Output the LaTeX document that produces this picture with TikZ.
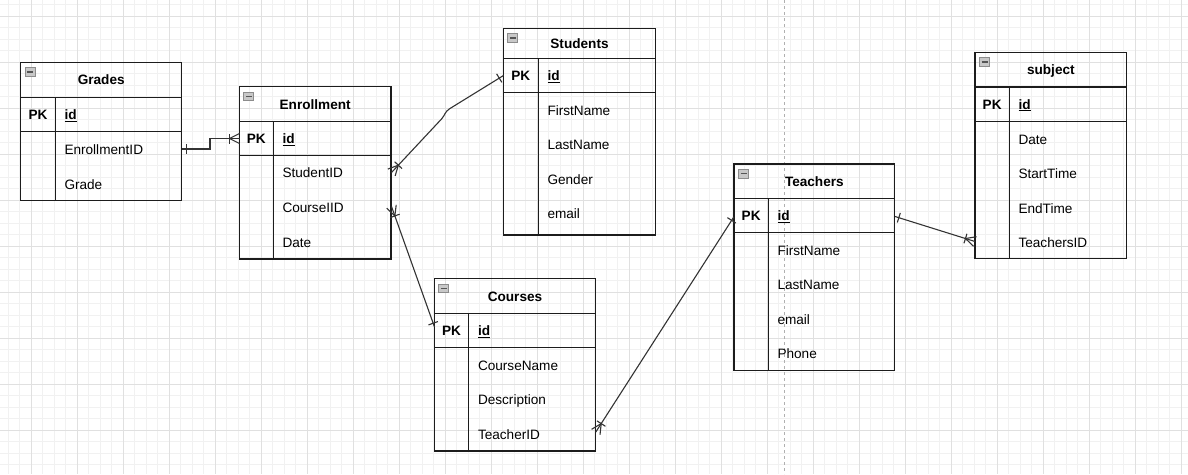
\documentclass[tikz,border=0pt]{standalone}
\usepackage{fontspec}
\setmainfont{Liberation Sans}
\usetikzlibrary{calc}
\definecolor{gridmin}{HTML}{F1F1F1}
\definecolor{gridmaj}{HTML}{E0E0E0}
\definecolor{ink}{HTML}{1C1C1C}
\definecolor{iconfill}{HTML}{C8C8C8}
\definecolor{icondraw}{HTML}{8C8C8C}
\definecolor{icondark}{HTML}{555555}
\definecolor{pagebreak}{HTML}{B0B0B0}
\tikzset{
  boxline/.style={draw=ink, line width=1.2pt},
  conn/.style={draw=ink!90, line width=1.1pt},
  gridminor/.style={draw=gridmin, line width=0.8pt},
  gridmajor/.style={draw=gridmaj, line width=1pt},
  tabletitle/.style={font=\fontsize{13.6}{16}\selectfont\bfseries, inner sep=0pt, anchor=base},
  fieldtext/.style={font=\fontsize{13.6}{16}\selectfont, inner sep=0pt, anchor=base west},
  pktext/.style={font=\fontsize{13.6}{16}\selectfont\bfseries, inner sep=0pt, anchor=base},
  idtext/.style={font=\fontsize{13.6}{16}\selectfont\bfseries, inner sep=0pt, anchor=base west},
}
% #1 id, #2 left, #3 top, #4 right, #5 bottom, #6 header bottom, #7 pk bottom, #8 divider, #9 title
\newcommand{\ertable}[9]{%
  \draw[boxline] (#2,#3) rectangle (#4,#5);
  \draw[boxline] (#2,#6) -- (#4,#6);
  \draw[boxline] (#2,#7) -- (#4,#7);
  \draw[boxline] (#8,#6) -- (#8,#5);
  \draw[fill=iconfill, draw=icondraw, line width=0.8pt] ({#2+4.5},{#3+5.5}) rectangle ({#2+14.5},{#3+14});
  \draw[draw=icondark, line width=1.3pt] ({#2+6.5},{#3+9.8}) -- ({#2+12.5},{#3+9.8});
  \node[tabletitle] (#1-title) at ({(#2+#4)/2},{(#3+#6)/2+5}) {#9};
  \node[pktext] (#1-pk) at ({(#2+#8)/2},{(#6+#7)/2+5}) {PK};
  \node[idtext] (#1-id) at ({#8+9},{(#6+#7)/2+5}) {\underline{id}};
}
% #1 name, #2 x, #3 row centre y, #4 text
\newcommand{\erfield}[4]{\node[fieldtext] (#1) at (#2,{#3+5}) {#4};}
% bar across the line at #1, toward #2, at distance #3
\newcommand{\erbar}[3]{%
  \coordinate (mka) at ($(#1)!#3!(#2)$);
  \draw[conn] ($(mka)!5pt!90:(#2)$) -- ($(mka)!5pt!-90:(#2)$);}
% crow's foot with bar at #1, toward #2
\newcommand{\ermany}[2]{%
  \coordinate (mkc) at ($(#1)!10pt!(#2)$);
  \draw[conn] ($(#1)!5pt!90:(#2)$) -- (mkc) -- ($(#1)!5pt!-90:(#2)$);
  \erbar{#1}{#2}{10pt}}
\begin{document}
\begin{tikzpicture}[x=1pt,y=-1pt]
\useasboundingbox (0,0) rectangle (1188,474);
\fill[white] (0,0) rectangle (1188,474);
% grid
\foreach \k in {-2,...,100} {\draw[gridminor] ({31.3+11.5*\k},0) -- ({31.3+11.5*\k},474);}
\foreach \k in {-1,...,39} {\draw[gridminor] (0,{16+11.5*\k}) -- (1188,{16+11.5*\k});}
\foreach \k in {0,...,25} {\draw[gridmajor] ({31.3+46*\k},0) -- ({31.3+46*\k},474);}
\foreach \k in {0,...,9} {\draw[gridmajor] (0,{16+46*\k}) -- (1188,{16+46*\k});}
\draw[draw=pagebreak, line width=0.9pt, dash pattern=on 3pt off 3pt] (784.3,0) -- (784.3,474);

% tables
\ertable{gr}{20.7}{62.3}{181.7}{200.7}{97.3}{131.7}{55.3}{Grades}
\erfield{gr-f1}{64.3}{149}{EnrollmentID}
\erfield{gr-f2}{64.3}{184}{Grade}

\ertable{en}{239.3}{86.7}{391}{259}{121.7}{155.7}{273.3}{Enrollment}
\erfield{en-f1}{282.3}{172.7}{StudentID}
\erfield{en-f2}{282.3}{207.5}{CourseIID}
\erfield{en-f3}{282.3}{242}{Date}

\ertable{st}{503.3}{28.3}{655.7}{235}{58.3}{92.7}{538.3}{Students}
\erfield{st-f1}{547.3}{110}{FirstName}
\erfield{st-f2}{547.3}{144.5}{LastName}
\erfield{st-f3}{547.3}{179}{Gender}
\erfield{st-f4}{547.3}{213.8}{email}

\ertable{co}{434.3}{278.7}{595.7}{451}{313.3}{347.3}{468.8}{Courses}
\erfield{co-f1}{477.8}{365}{CourseName}
\erfield{co-f2}{477.8}{399.5}{Description}
\erfield{co-f3}{477.8}{434}{TeacherID}

\ertable{te}{734}{164}{894.7}{370.7}{198.3}{232.3}{768.3}{Teachers}
\erfield{te-f1}{777.3}{250}{FirstName}
\erfield{te-f2}{777.3}{284.5}{LastName}
\erfield{te-f3}{777.3}{319}{email}
\erfield{te-f4}{777.3}{353.5}{Phone}

\ertable{su}{975}{52.3}{1126.7}{258.3}{87}{121.3}{1009.3}{subject}
\erfield{su-f1}{1018.3}{139.3}{Date}
\erfield{su-f2}{1018.3}{173.8}{StartTime}
\erfield{su-f3}{1018.3}{208.3}{EndTime}
\erfield{su-f4}{1018.3}{242.8}{TeachersID}

% connectors
\coordinate (g-out) at (182.2,149);
\coordinate (g-k1) at (210,149);
\coordinate (g-k2) at (210,138.5);
\coordinate (en-in) at (239.5,138.5);
\draw[conn] (g-out) -- (g-k1) -- (g-k2) -- (en-in);
\erbar{g-out}{g-k1}{4pt}
\ermany{en-in}{g-k2}

\coordinate (en-s) at (391.5,172.5);
\coordinate (es-k1) at (441.7,118.8);
\coordinate (es-k2) at (449.5,108.8);
\coordinate (st-in) at (503.5,75.5);
\draw[conn] (en-s) -- (es-k1) .. controls (445.3,114.5) and (444.8,112) .. (es-k2) -- (st-in);
\ermany{en-s}{es-k1}
\erbar{st-in}{es-k2}{5pt}

\coordinate (en-c) at (391.5,206.5);
\coordinate (co-in) at (434.5,327);
\draw[conn] (en-c) -- (co-in);
\ermany{en-c}{co-in}
\erbar{co-in}{en-c}{4pt}

\coordinate (co-out) at (595.8,432);
\coordinate (te-in) at (733.8,217);
\draw[conn] (co-out) -- (te-in);
\ermany{co-out}{te-in}
\erbar{te-in}{co-out}{4pt}

\coordinate (te-out) at (895,216.5);
\coordinate (su-in) at (975,241.5);
\draw[conn] (te-out) -- (su-in);
\erbar{te-out}{su-in}{4pt}
\ermany{su-in}{te-out}
\end{tikzpicture}
\end{document}
